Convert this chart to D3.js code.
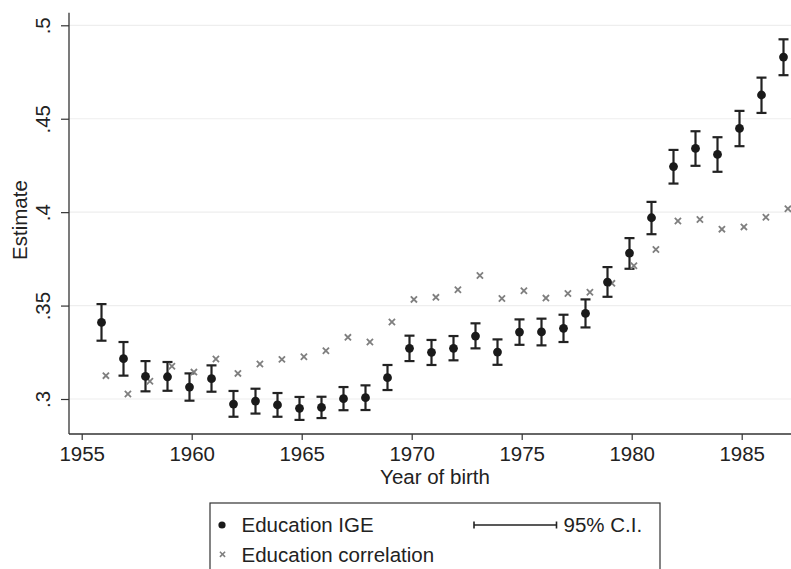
<!DOCTYPE html>
<html>
<head>
<meta charset="utf-8">
<script src="https://cdn.jsdelivr.net/npm/d3@7"></script>
<style>
  html, body { margin: 0; padding: 0; background: #fff; }
  svg { display: block; font-family: "Liberation Sans", Arial, Helvetica, sans-serif; }
</style>
</head>
<body>
<script>
const years = d3.range(1956, 1988);
const igeEstimate = [0.341, 0.3216, 0.3121, 0.3119, 0.3064, 0.3109, 0.2973, 0.2989, 0.2968, 0.295,
  0.2955, 0.3002, 0.3007, 0.3114, 0.3271, 0.325, 0.3271, 0.3337, 0.3251, 0.3358,
  0.3359, 0.3378, 0.3458, 0.3626, 0.3781, 0.397, 0.4244, 0.4341, 0.4309, 0.4448,
  0.4627, 0.483];
const igeLow = [0.3312, 0.3125, 0.3041, 0.3044, 0.2991, 0.3039, 0.2905, 0.2922, 0.2905, 0.2888,
  0.2898, 0.294, 0.2941, 0.3048, 0.3203, 0.3182, 0.3207, 0.3271, 0.3183, 0.329,
  0.3287, 0.3305, 0.3383, 0.3547, 0.3697, 0.3882, 0.4153, 0.4248, 0.4216, 0.4353,
  0.4531, 0.4733];
const igeHigh = [0.3508, 0.3305, 0.3203, 0.3198, 0.3137, 0.318, 0.3043, 0.3055, 0.3032, 0.3011,
  0.3012, 0.3064, 0.3073, 0.3182, 0.3339, 0.3316, 0.3337, 0.3405, 0.3319, 0.3426,
  0.343, 0.3451, 0.3533, 0.3706, 0.3861, 0.4055, 0.4333, 0.4433, 0.4401, 0.4542,
  0.472, 0.4925];
const corrEstimate = [0.3125, 0.3027, 0.3095, 0.3175, 0.3144, 0.3214, 0.3137, 0.3187, 0.3212, 0.3226,
  0.3258, 0.333, 0.3305, 0.3412, 0.3533, 0.3544, 0.3585, 0.3661, 0.3538, 0.3579,
  0.354, 0.3565, 0.3571, 0.3619, 0.3713, 0.38, 0.3953, 0.3961, 0.3909, 0.3921,
  0.3973, 0.4018];
const xTicks = [1955, 1960, 1965, 1970, 1975, 1980, 1985];
const yTicks = [0.3, 0.35, 0.4, 0.45, 0.5];
const yTickLabels = [".3", ".35", ".4", ".45", ".5"];
const legendLabels = ["Education IGE", "Education correlation", "95% C.I."];

const W = 791, H = 569;
const svg = d3.select("body").append("svg").attr("width", W).attr("height", H);
svg.append("rect").attr("width", W).attr("height", H).attr("fill", "#fff");

const x = d3.scaleLinear().domain([1955, 1985]).range([81.7, 741.7]);
const y = d3.scaleLinear().domain([0.3, 0.5]).range([399, 25.3]);
const axisX0 = 69, axisX1 = 791, axisY0 = 434, axisTop = 12.7;
const FS = 20.5;

// gridlines
svg.append("g").selectAll("line").data(yTicks).join("line")
  .attr("x1", axisX0).attr("x2", axisX1)
  .attr("y1", d => y(d)).attr("y2", d => y(d))
  .attr("stroke", "#eeeeee").attr("stroke-width", 1.2);

// x axis
const gx = svg.append("g").attr("transform", `translate(0,${axisY0})`)
  .call(d3.axisBottom(x).tickValues(xTicks).tickFormat(d3.format("d")).tickSize(6).tickPadding(6));
gx.select(".domain").remove();
gx.selectAll(".tick line").attr("stroke", "#333").attr("stroke-width", 1.2);
gx.selectAll(".tick text").attr("font-size", FS).attr("fill", "#222")
  .attr("font-family", "Liberation Sans, Arial, sans-serif");
svg.append("line").attr("x1", axisX0).attr("x2", axisX1).attr("y1", axisY0).attr("y2", axisY0)
  .attr("stroke", "#333").attr("stroke-width", 1.3);

// y axis
const gy = svg.append("g").attr("transform", `translate(${axisX0},0)`)
  .call(d3.axisLeft(y).tickValues(yTicks).tickFormat((d, i) => yTickLabels[i]).tickSize(8));
gy.select(".domain").remove();
gy.selectAll(".tick line").attr("stroke", "#333").attr("stroke-width", 1.2);
gy.selectAll(".tick text")
  .attr("font-size", FS).attr("fill", "#222")
  .attr("text-anchor", "middle").attr("dy", null)
  .attr("x", null)
  .attr("transform", "translate(-19,0) rotate(-90)");
svg.append("line").attr("x1", axisX0).attr("x2", axisX0).attr("y1", axisTop).attr("y2", axisY0)
  .attr("stroke", "#333").attr("stroke-width", 1.3);

// axis titles
svg.append("text").attr("x", 435).attr("y", 484).attr("text-anchor", "middle")
  .attr("font-size", FS).attr("fill", "#222").text("Year of birth");
svg.append("text").attr("transform", "translate(26.5,220) rotate(-90)").attr("text-anchor", "middle")
  .attr("font-size", FS).attr("fill", "#222").text("Estimate");

const rows = years.map((yr, i) => ({ yr, est: igeEstimate[i], lo: igeLow[i], hi: igeHigh[i], corr: corrEstimate[i] }));
const off = 0.1;
const capW = 5;

// error bars
const eb = svg.append("g").attr("stroke", "#222").attr("stroke-width", 2.2);
eb.selectAll("line.v").data(rows).join("line").attr("class", "v")
  .attr("x1", d => x(d.yr - off)).attr("x2", d => x(d.yr - off))
  .attr("y1", d => y(d.lo)).attr("y2", d => y(d.hi));
eb.selectAll("line.t").data(rows).join("line").attr("class", "t")
  .attr("x1", d => x(d.yr - off) - capW).attr("x2", d => x(d.yr - off) + capW)
  .attr("y1", d => y(d.hi)).attr("y2", d => y(d.hi));
eb.selectAll("line.b").data(rows).join("line").attr("class", "b")
  .attr("x1", d => x(d.yr - off) - capW).attr("x2", d => x(d.yr - off) + capW)
  .attr("y1", d => y(d.lo)).attr("y2", d => y(d.lo));

// correlation crosses
const cs = 3.1;
const cg = svg.append("g").attr("stroke", "#7f7f7f").attr("stroke-width", 1.8);
rows.forEach(d => {
  const cx = x(d.yr + off), cy = y(d.corr);
  cg.append("line").attr("x1", cx - cs).attr("x2", cx + cs).attr("y1", cy - cs).attr("y2", cy + cs);
  cg.append("line").attr("x1", cx - cs).attr("x2", cx + cs).attr("y1", cy + cs).attr("y2", cy - cs);
});

// IGE dots
svg.append("g").selectAll("circle").data(rows).join("circle")
  .attr("cx", d => x(d.yr - off)).attr("cy", d => y(d.est)).attr("r", 4.4)
  .attr("fill", "#1a1a1a");

// legend
const row1 = 525, row2 = 554.3;
const lg = svg.append("g");
lg.append("rect").attr("x", 210).attr("y", 503).attr("width", 450).attr("height", 80)
  .attr("fill", "#fff").attr("stroke", "#333").attr("stroke-width", 1.2);
lg.append("circle").attr("cx", 222).attr("cy", row1).attr("r", 3.6).attr("fill", "#1a1a1a");
lg.append("text").attr("x", 241.5).attr("y", row1 + 7.3).attr("font-size", FS).attr("fill", "#222").text(legendLabels[0]);
const lcx = 222.5, ls = 2.6;
lg.append("line").attr("x1", lcx - ls).attr("x2", lcx + ls).attr("y1", row2 - ls).attr("y2", row2 + ls)
  .attr("stroke", "#7f7f7f").attr("stroke-width", 1.5);
lg.append("line").attr("x1", lcx - ls).attr("x2", lcx + ls).attr("y1", row2 + ls).attr("y2", row2 - ls)
  .attr("stroke", "#7f7f7f").attr("stroke-width", 1.5);
lg.append("text").attr("x", 241.5).attr("y", row2 + 7.3).attr("font-size", FS).attr("fill", "#222").text(legendLabels[1]);
const ciG = lg.append("g").attr("stroke", "#222").attr("stroke-width", 1.6);
ciG.append("line").attr("x1", 474).attr("x2", 556.5).attr("y1", row1).attr("y2", row1);
ciG.append("line").attr("x1", 474).attr("x2", 474).attr("y1", row1 - 3.5).attr("y2", row1 + 3.5);
ciG.append("line").attr("x1", 556.5).attr("x2", 556.5).attr("y1", row1 - 3.5).attr("y2", row1 + 3.5);
lg.append("text").attr("x", 563.5).attr("y", row1 + 7.3).attr("font-size", FS).attr("fill", "#222").text(legendLabels[2]);
</script>
</body>
</html>
